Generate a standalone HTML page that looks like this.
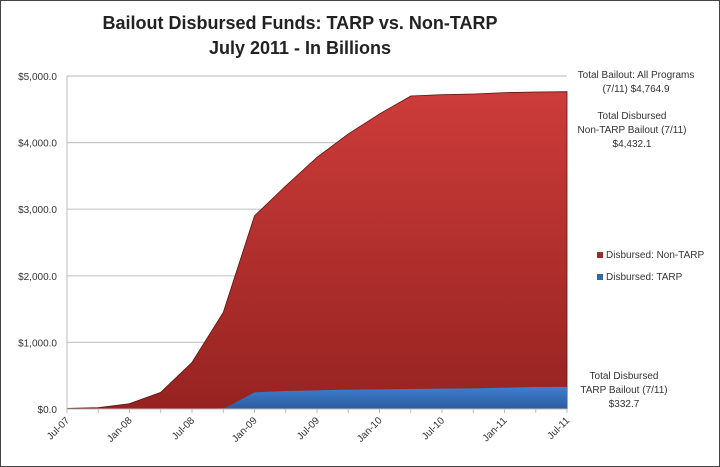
<!DOCTYPE html>
<html><head><meta charset="utf-8"><style>
body{margin:0;background:#fff;}
svg{display:block;font-family:"Liberation Sans",sans-serif;}
</style></head><body>
<svg id="chart" width="720" height="467">
<defs>
<linearGradient id="gr" x1="0" y1="0" x2="0" y2="1"><stop offset="0" stop-color="#cc3c3a"/><stop offset="1" stop-color="#962321"/></linearGradient>
<linearGradient id="gb" x1="0" y1="0" x2="0" y2="1"><stop offset="0" stop-color="#3d7fd0"/><stop offset="1" stop-color="#2c5c9c"/></linearGradient>
</defs>
<rect x="0.5" y="0.5" width="719" height="466" fill="#fff" stroke="#444"/>
<text x="300" y="29" text-anchor="middle" font-size="18" font-weight="bold" fill="#222">Bailout Disbursed Funds: TARP vs. Non-TARP</text>
<text x="300" y="54" text-anchor="middle" font-size="18" font-weight="bold" fill="#222">July 2011 - In Billions</text>
<g id="grid"></g><g id="areas"></g><g id="axes"></g>
<g font-size="10" fill="#333" text-anchor="middle">
<line x1="567" y1="76" x2="566" y2="76" stroke="#ccc"/>
<text x="636" y="78">Total Bailout: All Programs</text>
<text x="636" y="92">(7/11) $4,764.9</text>
<text x="632" y="119">Total Disbursed</text>
<text x="632" y="133">Non-TARP Bailout (7/11)</text>
<text x="632" y="147">$4,432.1</text>
<text x="624" y="379">Total Disbursed</text>
<text x="624" y="393">TARP Bailout (7/11)</text>
<text x="624" y="407">$332.7</text>
</g>
<g font-size="10" fill="#333">
<rect x="597" y="252" width="6" height="6" fill="#a02a28"/>
<text x="606" y="258">Disbursed: Non-TARP</text>
<rect x="597" y="274" width="6" height="6" fill="#2f67b0"/>
<text x="606" y="280">Disbursed: TARP</text>
</g>
</svg>
<script>
const categories=["Jul-07","Oct-07","Jan-08","Apr-08","Jul-08","Oct-08","Jan-09","Apr-09","Jul-09","Oct-09","Jan-10","Apr-10","Jul-10","Oct-10","Jan-11","Apr-11","Jul-11"];
const tarp=[0,0,0,0,0,0,250,270,280,290,295,300,305,310,320,330,332.7];
const nonTarp=[10,20,80,250,700,1450,2650,3080,3500,3840,4135,4400,4415,4420,4430,4430,4432.1];
const yTicks=[0,1000,2000,3000,4000,5000];
const yTickLabels=["$0.0","$1,000.0","$2,000.0","$3,000.0","$4,000.0","$5,000.0"];
const xLabelIdx=[0,2,4,6,8,10,12,14,16];

const X0=67,X1=567,Y0=409,Y1=76,YMAX=5000;
const x=i=>X0+(X1-X0)*i/(categories.length-1);
const y=v=>Y0-(Y0-Y1)*v/YMAX;
const NS="http://www.w3.org/2000/svg";
function mk(t,a,p){const e=document.createElementNS(NS,t);for(const k in a)e.setAttribute(k,a[k]);p.appendChild(e);return e;}
const grid=document.getElementById('grid'),areas=document.getElementById('areas'),axes=document.getElementById('axes');
yTicks.forEach((v,i)=>{
 if(v>0){const g=mk('line',{x1:X0,x2:X1,y1:y(v),y2:y(v),stroke:'#c8c8c8','stroke-width':1.2},grid);
 
 }
 const t=mk('text',{x:X0-10,y:y(v)+4,'text-anchor':'end','font-size':10,fill:'#333'},axes);
 t.textContent=yTickLabels[i];
 
 
});
const total=nonTarp.map((v,i)=>v+tarp[i]);
let d='M'+x(0)+','+Y0;
total.forEach((v,i)=>d+=' L'+x(i)+','+y(v));
d+=' L'+x(total.length-1)+','+Y0+' Z';
const r=mk('path',{d:d,fill:'url(#gr)',stroke:'#5a1414','stroke-width':0.8},areas);


let db='M'+x(0)+','+Y0;
tarp.forEach((v,i)=>db+=' L'+x(i)+','+y(v));
db+=' L'+x(tarp.length-1)+','+Y0+' Z';
const b=mk('path',{d:db,fill:'url(#gb)'},areas);


const ya=mk('line',{x1:X0,x2:X0,y1:Y1,y2:Y0,stroke:'#bbb'},axes);


const xa=mk('line',{x1:X0,x2:X1,y1:Y0,y2:Y0,stroke:'#bbb'},axes);


categories.forEach((c,i)=>{
 mk('line',{x1:x(i),x2:x(i),y1:Y0,y2:Y0+4,stroke:'#bbb'},axes);
});
xLabelIdx.forEach(i=>{
 const t=mk('text',{x:x(i)+3,y:Y0+12,'text-anchor':'end','font-size':10,fill:'#333',transform:'rotate(-45 '+(x(i)+3)+' '+(Y0+12)+')'},axes);
 t.textContent=categories[i];
 
 
});
</script>
</body></html>
